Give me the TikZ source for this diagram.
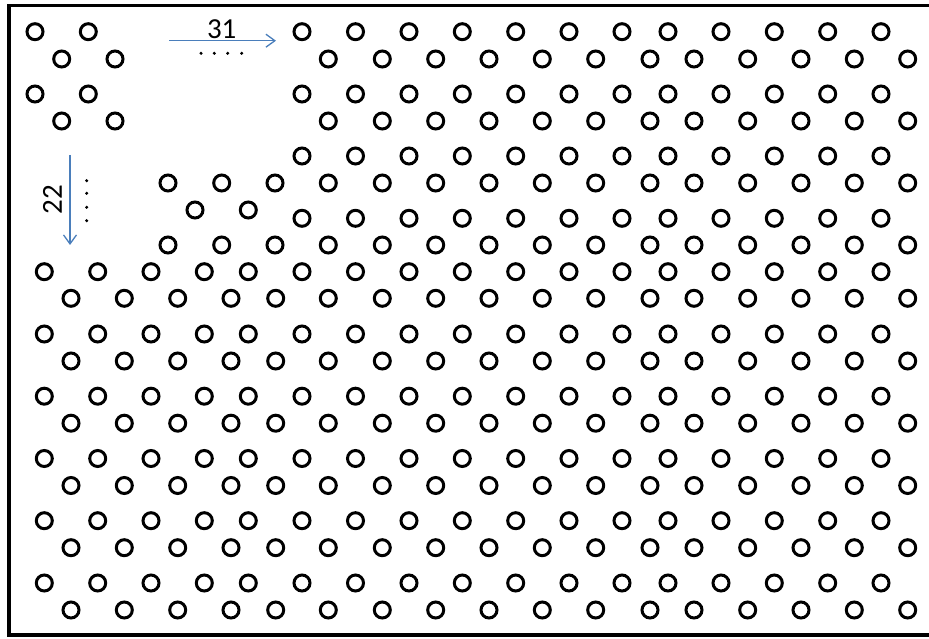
\documentclass[tikz,border=0pt]{standalone}
\usepackage{fontspec}
\setmainfont{Carlito}
\usetikzlibrary{arrows.meta}
\definecolor{arrowblue}{RGB}{74,126,187}
\begin{document}
\begin{tikzpicture}[x=1pt,y=-1pt,
  hole/.style={line width=3pt},
  bluearrow/.style={draw=arrowblue,line width=1.3pt,-{Straight Barb[length=9pt,width=13pt,line width=1.3pt]}},
  lbl/.style={font=\fontsize{29}{29}\selectfont,inner sep=0pt},
  dotmark/.style={fill=black}]
\useasboundingbox (0,0) rectangle (929,639);
\clip (0,0) rectangle (929,639);
% frame (right side cut off)
\draw[line width=3.5pt] (9,5.5) rectangle (945,635);
\def\rr{8}
\def\rightA{302,355.5,409,462.3,515.7,569,622,668,721,774.3,827.7,881}
\def\rightB{328.3,382.3,435.7,489,542.3,595.7,650,694,747.7,801,854.3,907.7}
% top-left block
\foreach \y in {31.7,94} \foreach \x in {35,88.3} \draw[hole] (\x,\y) circle (\rr);
\foreach \y in {59,121} \foreach \x in {61.7,115} \draw[hole] (\x,\y) circle (\rr);
% right part, upper rows
\foreach \y in {31.7,94,156,218.3} \foreach \x in \rightA \draw[hole] (\x,\y) circle (\rr);
\foreach \y in {59,121,183,245} \foreach \x in \rightB \draw[hole] (\x,\y) circle (\rr);
% middle-left block
\foreach \y in {183,245} \foreach \x in {168,221.7,275} \draw[hole] (\x,\y) circle (\rr);
\foreach \x in {195,248.3} \draw[hole] (\x,210) circle (\rr);
% full rows
\foreach \y in {271.7,334,396.2,458.5,520.7,583} {
  \foreach \x in {44.3,97.7,151,204.3,248.3} \draw[hole] (\x,\y) circle (\rr);
  \foreach \x in \rightA \draw[hole] (\x,\y) circle (\rr);
}
\foreach \y in {298.3,361,423.2,485.5,547.7,610} {
  \foreach \x in {71,124.3,177.7,231,275.7} \draw[hole] (\x,\y) circle (\rr);
  \foreach \x in \rightB \draw[hole] (\x,\y) circle (\rr);
}
% horizontal arrow with label 31
\coordinate (h1) at (169,40.7);
\coordinate (h2) at (276,40.7);
\draw[bluearrow] (h1) -- (h2);
\node[lbl] (n31) at (221.7,29) {31};
\foreach \x in {201,214.3,227.7,241.7} \fill[dotmark] (\x,53.3) circle (1.7);
% vertical arrow with label 22
\coordinate (v1) at (70,155);
\coordinate (v2) at (70,245);
\draw[bluearrow] (v1) -- (v2);
\node[lbl,rotate=90] (n22) at (52.5,200) {22};
\foreach \y in {180.7,193.3,207.3,220.7} \fill[dotmark] (86.7,\y) circle (1.7);
\end{tikzpicture}
\end{document}
